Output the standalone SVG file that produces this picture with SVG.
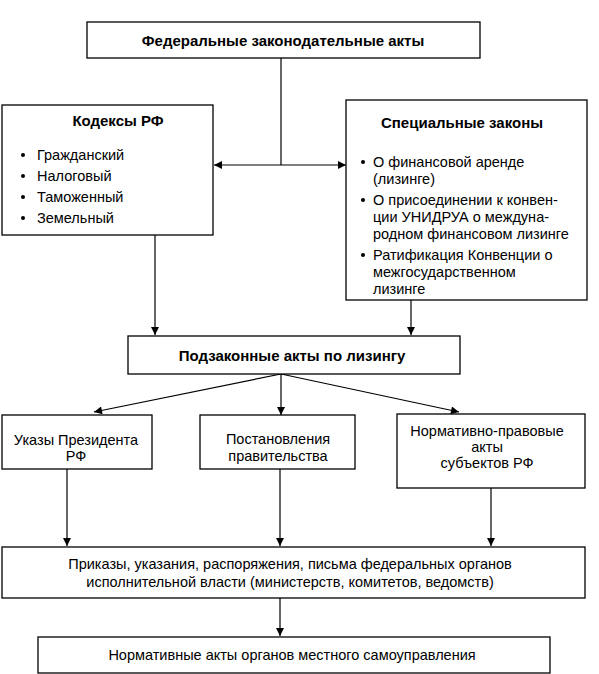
<svg xmlns="http://www.w3.org/2000/svg" width="599" height="674" viewBox="0 0 599 674">
<defs>
<marker id="ah" viewBox="0 0 10 10" refX="10" refY="5" markerWidth="10" markerHeight="8" markerUnits="userSpaceOnUse" orient="auto-start-reverse">
<path d="M0,0 L10,5 L0,10 z" fill="#000"/>
</marker>
</defs>
<style>
.box{fill:#fff;stroke:#000;stroke-width:1.3}
.t{font-family:"Liberation Sans",Arial,sans-serif;font-size:14.5px;fill:#000}
.b{font-weight:bold;font-size:15px}
.c{text-anchor:middle}
.ln{stroke:#000;stroke-width:1.2;fill:none}
.ar{stroke:#000;stroke-width:1.2;fill:none;marker-end:url(#ah)}
</style>
<rect width="599" height="674" fill="#fff"/>
<g id="connectors">
<line class="ln" x1="281" y1="58" x2="281" y2="165"/>
<line class="ar" x1="281" y1="165" x2="214" y2="165"/>
<line class="ar" x1="281" y1="165" x2="346" y2="165"/>
<line class="ar" x1="155" y1="235" x2="155" y2="335"/>
<line class="ar" x1="411" y1="300" x2="411" y2="335"/>
<line class="ar" x1="281" y1="374" x2="94" y2="412"/>
<line class="ar" x1="281" y1="374" x2="281" y2="415"/>
<line class="ar" x1="281" y1="374" x2="459" y2="412"/>
<line class="ar" x1="67" y1="469" x2="67" y2="546"/>
<line class="ar" x1="280" y1="469" x2="280" y2="546"/>
<line class="ar" x1="491" y1="488" x2="491" y2="546"/>
<line class="ar" x1="280" y1="598" x2="280" y2="636"/>
</g>
<g id="federal">
<rect class="box" x="87" y="22" width="393" height="36"/>
<text class="t b c" x="283" y="46">Федеральные законодательные акты</text>
</g>
<g id="kodeksy">
<rect class="box" x="2" y="105" width="211" height="130"/>
<text class="t b c" x="118" y="126">Кодексы РФ</text>
<g class="t">
<circle cx="23" cy="155" r="2"/><text x="37" y="160">Гражданский</text>
<circle cx="23" cy="176" r="2"/><text x="37" y="181">Налоговый</text>
<circle cx="23" cy="197" r="2"/><text x="37" y="202">Таможенный</text>
<circle cx="23" cy="218" r="2"/><text x="37" y="223">Земельный</text>
</g>
</g>
<g id="special">
<rect class="box" x="346" y="100" width="241" height="200"/>
<text class="t b c" x="462" y="128">Специальные законы</text>
<g class="t">
<circle cx="363" cy="162" r="2"/><text x="373" y="167">О финансовой аренде</text>
<text x="373" y="184">(лизинге)</text>
<circle cx="363" cy="200" r="2"/><text x="373" y="205">О присоединении к конвен-</text>
<text x="373" y="222">ции УНИДРУА о междуна-</text>
<text x="373" y="239">родном финансовом лизинге</text>
<circle cx="363" cy="255" r="2"/><text x="373" y="260">Ратификация Конвенции о</text>
<text x="373" y="277">межгосударственном</text>
<text x="373" y="294">лизинге</text>
</g>
</g>
<g id="podzakonnye">
<rect class="box" x="128" y="336" width="332" height="38"/>
<text class="t b c" x="292" y="361">Подзаконные акты по лизингу</text>
</g>
<g id="ukazy">
<rect class="box" x="2" y="415" width="150" height="54"/>
<text class="t c" x="76" y="445">Указы Президента</text>
<text class="t c" x="76" y="461">РФ</text>
</g>
<g id="postanovleniya">
<rect class="box" x="200" y="415" width="155" height="54"/>
<text class="t c" x="278" y="444">Постановления</text>
<text class="t c" x="278" y="461">правительства</text>
</g>
<g id="subjects">
<rect class="box" x="397" y="414" width="188" height="74"/>
<text class="t c" x="487" y="436">Нормативно-правовые</text>
<text class="t c" x="487" y="452">акты</text>
<text class="t c" x="487" y="468">субъектов РФ</text>
</g>
<g id="prikazy">
<rect class="box" x="2" y="547" width="583" height="51"/>
<text class="t c" x="290" y="569">Приказы, указания, распоряжения, письма федеральных органов</text>
<text class="t c" x="290" y="587">исполнительной власти (министерств, комитетов, ведомств)</text>
</g>
<g id="local">
<rect class="box" x="38" y="637" width="512" height="36"/>
<text class="t c" x="292" y="660">Нормативные акты органов местного самоуправления</text>
</g>
</svg>
